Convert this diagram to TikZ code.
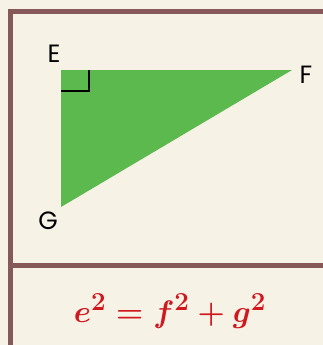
\documentclass[tikz,border=0pt]{standalone}
\usepackage{fontspec}
\usepackage{amsmath}
\setsansfont{Poppins}
\usetikzlibrary{positioning, calc}
\definecolor{paperCream}{HTML}{F7F2E6}
\definecolor{frameBrown}{HTML}{875858}
\definecolor{triGreen}{HTML}{5BB94E}
\definecolor{eqRed}{HTML}{D0181E}

\begin{document}
\begin{tikzpicture}[x=1pt, y=-1pt,
  every node/.style={font=\sffamily\fontsize{25}{30}\selectfont},
  frame/.style={draw=frameBrown, line width=5pt},
  ptlabel/.style={inner sep=0pt, text=black},
  rightmark/.style={draw=black, line width=1.4pt},
  formula/.style={inner sep=0pt, text=eqRed, font=\fontsize{24.88}{30}\selectfont\boldmath}
]
% page and frame
\fill[paperCream] (0,0) rectangle (323,345);
\useasboundingbox (0,0) rectangle (323,345);
\begin{scope}
  \clip (0,0) rectangle (323,345);
  \draw[frame] (10,12) rectangle (330,360);
  \draw[frame] (10,265.5) -- (330,265.5);
\end{scope}

% triangle
\coordinate (E) at (61,70);
\coordinate (F) at (292,70);
\coordinate (G) at (61,207);
\fill[triGreen] (E) -- (F) -- (G) -- cycle;
\draw[rightmark] ($(E)+(0,21)$) -| ($(E)+(28,0)$);

\node[ptlabel] (lblE) at (54,54) {E};
\node[ptlabel] (lblF) at (306,75) {F};
\node[ptlabel] (lblG) at (48,221) {G};

% equation
\node[formula, anchor=base] (eq) at (170,322) {\scalebox{1.25}{$e^2 = f^2 + g^2$}};
\end{tikzpicture}
\end{document}
